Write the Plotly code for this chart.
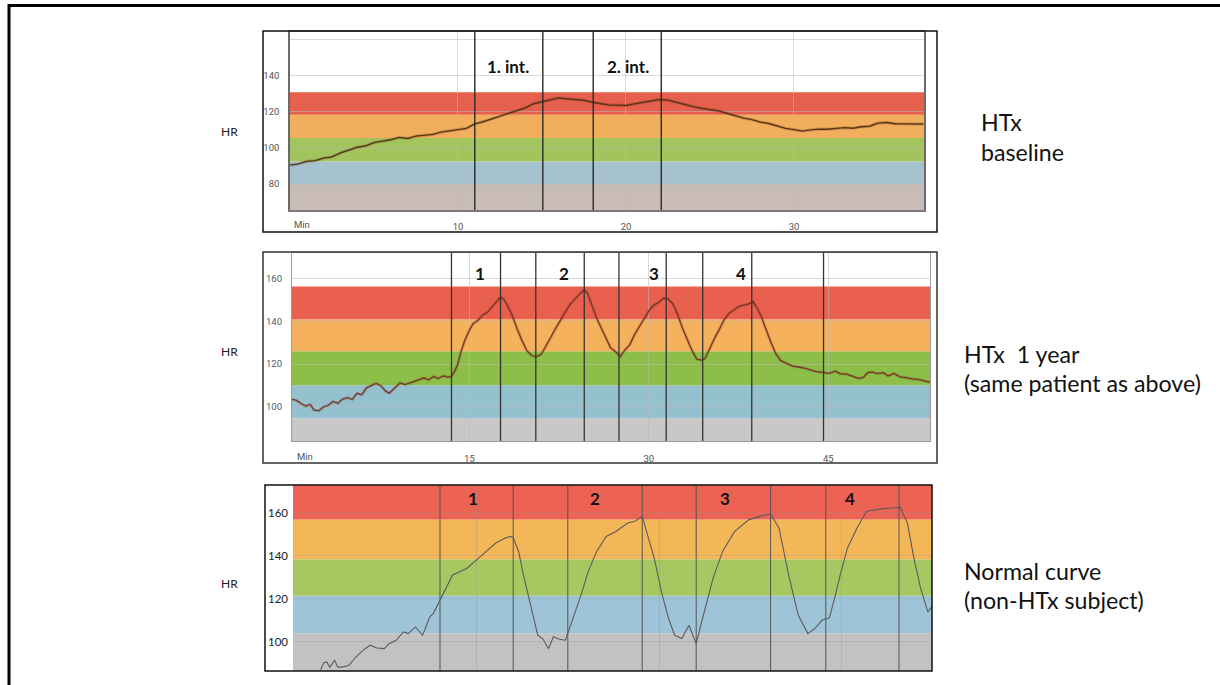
import plotly.graph_objects as go

W, H = 1220, 685


def fx(x):
    return x / W


def fy(y):
    return 1 - y / H


# ---------------- data ----------------
# HTx baseline
T1 = [0, 0.5, 1, 1.5, 2, 2.5, 3, 3.5, 4, 4.5, 5, 5.5, 6, 6.5, 7, 7.5, 8, 8.5, 9, 9.5,
      10, 10.5, 11, 11.5, 12, 12.5, 13, 13.5, 14, 14.5, 15, 15.5, 16, 16.5, 17, 17.5,
      18, 18.5, 19, 19.5, 20, 20.5, 21, 21.5, 22, 22.5, 23, 23.5, 24, 24.5, 25, 25.5,
      26, 26.5, 27, 27.5, 28, 28.5, 29, 29.5, 30, 30.5, 31, 31.5, 32, 32.5, 33, 33.5,
      34, 34.5, 35, 35.5, 36, 36.5, 37, 37.7]
HR1 = [90.5, 91.2, 92.6, 93.0, 94.4, 95.1, 97.3, 99.0, 100.4, 101.2, 103.0, 103.8,
       104.6, 105.9, 105.3, 106.6, 106.9, 107.6, 108.8, 109.3, 110.2, 110.9, 113.4,
       114.6, 116.2, 117.5, 119.2, 120.7, 122.3, 124.6, 125.6, 126.9, 127.8, 127.3,
       126.8, 126.5, 125.4, 124.5, 123.9, 123.8, 123.6, 124.5, 125.2, 126.0, 126.9,
       126.6, 125.3, 124.2, 123.0, 122.1, 121.5, 120.6, 119.3, 117.8, 116.6, 115.8,
       114.4, 113.6, 112.1, 110.9, 110.2, 109.4, 110.1, 110.5, 110.4, 110.9, 111.3,
       111.0, 111.8, 112.1, 113.8, 114.2, 113.5, 113.4, 113.3, 113.3]
MARKS1 = [11.0, 15.05, 18.05, 22.1]
LABELS1 = ["1. int.", "2. int."]
LABEL_T1 = [13.0, 20.1]
ZONES1 = [80, 92.5, 105.5, 118.5, 131]

# HTx 1 year
T2 = [0, 0.5, 1, 1.3, 1.7, 2, 2.4, 2.8, 3.2, 3.6, 4, 4.4, 4.8, 5.2, 5.6, 6, 6.4, 6.8,
      7.2, 7.6, 8, 8.3, 8.7, 9.2, 9.6, 10, 10.4, 10.8, 11.2, 11.6, 12, 12.4, 12.8, 13.2,
      13.5, 13.8, 14, 14.3, 14.6, 15, 15.3, 15.7, 16.1, 16.5, 16.9, 17.3, 17.6, 17.9,
      18.2, 18.6, 19, 19.4, 19.8, 20.2, 20.6, 21, 21.4, 21.8, 22.2, 22.6, 23, 23.4,
      23.8, 24.2, 24.6, 24.9, 25.2, 25.6, 26, 26.4, 26.8, 27.2, 27.6, 28, 28.4, 28.8,
      29.2, 29.6, 30, 30.4, 30.8, 31.2, 31.6, 32, 32.4, 32.8, 33.2, 33.6, 34, 34.4,
      34.7, 35.1, 35.5, 35.9, 36.3, 36.7, 37.1, 37.5, 37.9, 38.3, 38.7, 39, 39.4,
      39.8, 40.2, 40.6, 41, 41.5, 42, 42.5, 43, 43.5, 44, 44.6, 45.1, 45.6, 46, 46.5,
      47, 47.5, 47.9, 48.3, 48.7, 49.1, 49.6, 50, 50.5, 51, 51.5, 52, 52.5, 53, 53.5]
HR2 = [103.5, 103.0, 101.2, 100.2, 101.0, 98.4, 98.0, 99.8, 100.6, 102.4, 101.5,
       103.5, 104.2, 103.3, 106.2, 105.5, 108.8, 109.9, 110.9, 109.8, 107.2, 106.3,
       108.4, 111.1, 110.3, 110.9, 111.8, 112.7, 113.4, 112.6, 114.1, 113.2, 114.4,
       113.8, 114.2, 117.0, 119.5, 125.8, 130.9, 135.9, 138.9, 140.5, 142.9, 144.3,
       146.9, 149.6, 151.5, 150.2, 147.3, 142.5, 136.2, 131.0, 126.3, 124.0, 123.4,
       124.6, 128.3, 132.6, 136.8, 140.4, 144.6, 147.9, 150.5, 152.8, 155.0, 153.0,
       148.6, 142.0, 137.2, 132.0, 127.6, 125.9, 123.4, 126.6, 129.0, 133.8, 137.4,
       141.5, 145.0, 147.6, 148.9, 150.9, 150.6, 148.4, 143.4, 137.0, 131.3, 126.4,
       122.3, 121.8, 122.6, 127.8, 132.2, 136.4, 140.9, 143.8, 145.4, 147.0, 147.7,
       148.1, 149.3, 146.9, 142.2, 136.0, 130.2, 125.0, 121.7, 120.3, 119.0, 118.6,
       118.1, 117.2, 116.4, 116.0, 115.6, 116.6, 115.4, 115.3, 114.4, 113.3, 113.6,
       115.9, 116.2, 115.5, 115.9, 114.4, 115.6, 113.9, 113.6, 113.0, 112.8, 112.2,
       111.5]
MARKS2 = [13.5, 17.6, 20.55, 24.6, 27.5, 31.45, 34.5, 38.6, 44.6]
LABELS2 = ["1", "2", "3", "4"]
LABEL_T2 = [15.9, 22.9, 30.4, 37.7]
ZONES2 = [94.5, 110, 126, 141, 156.5]

# Normal curve (non-HTx subject)
T3 = [2.3, 2.56, 2.8, 3.07, 3.47, 3.74, 4.06, 4.65, 5.24, 5.83, 6.42, 7.0, 7.6, 8.0,
      8.6, 9.2, 9.6, 10.2, 10.8, 11.4, 11.7, 12.25, 12.7, 13.3, 13.9, 14.5, 15.3,
      16.1, 16.9, 17.7, 18.1, 18.35, 18.8, 19.2, 19.8, 20.4, 20.8, 21.3, 21.7, 22.2,
      22.7, 22.9, 23.4, 24.0, 24.6, 25.3, 26.1, 26.9, 27.9, 28.5, 29.1, 29.5, 30.1,
      30.7, 31.3, 31.8, 32.4, 33.0, 33.6, 34.2, 35.0, 35.8, 36.8, 38.0, 38.9, 39.8,
      40.5, 41.3, 42.1, 42.9, 43.5, 44.1, 44.7, 45.2, 45.6, 46.2, 47.0, 47.8, 49.0,
      49.9, 50.6, 51.2, 51.8, 52.3, 52.9, 53.25]
HR3 = [87.1, 90.4, 90.7, 88.3, 91.5, 88.3, 88.3, 89.1, 93.0, 96.1, 98.5, 97.2, 96.9,
       99.2, 100.8, 104.7, 103.9, 107.0, 103.1, 111.7, 113.3, 119.5, 124.2, 131.2,
       132.7, 134.3, 138.2, 142.1, 146.0, 148.3, 149.1, 148.6, 142.1, 131.2, 117.2,
       103.1, 101.6, 96.9, 102.4, 101.3, 100.8, 103.9, 112.5, 121.8, 132.7, 142.1,
       149.1, 151.4, 155.3, 156.1, 158.4, 150.7, 139.0, 123.4, 110.9, 103.1, 101.6,
       107.8, 99.2, 112.5, 129.6, 142.1, 151.4, 156.9, 158.4, 159.5, 153.0, 131.2,
       112.5, 103.9, 106.3, 110.2, 111.2, 121.8, 131.2, 143.6, 153.0, 160.8, 161.9,
       162.3, 162.6, 155.3, 137.4, 125.0, 114.0, 116.4]
MARKS3 = [12.25, 18.35, 22.9, 29.1, 33.6, 39.8, 44.4, 50.5]
LABELS3 = ["1", "2", "3", "4"]
LABEL_T3 = [15.0, 25.2, 36.0, 46.4]
ZONES3 = [104, 121.5, 138.5, 157]

CAPTIONS = [["HTx", "baseline"],
            ["HTx\u00a0 1 year", "(same patient as above)"],
            ["Normal curve", "(non-HTx subject)"]]

# ---------------- figure ----------------
fig = go.Figure()
shapes = []
annotations = []


def zone_shapes(xref, yref, edges, ymin, ymax, colors):
    # colored intensity zones, lowest first
    bounds = [ymin] + list(edges) + [ymax]
    out = []
    for i, c in enumerate(colors):
        if i + 1 >= len(bounds):
            break
        out.append(dict(type="rect", xref=xref + " domain", yref=yref,
                        x0=0, x1=1, y0=bounds[i], y1=bounds[i + 1],
                        fillcolor=c, line=dict(width=0), layer="below"))
    return out


# panel 1 ------------------------------------------------------
R1 = (65.6, 164.4)
shapes += zone_shapes("x", "y", ZONES1, R1[0], R1[1],
                      ["#c9bcb7", "#a6c2ce", "#a3c35c", "#f1ae5d", "#e6604d", "rgba(0,0,0,0)"])
fig.add_trace(go.Scatter(x=T1, y=HR1, mode="lines", xaxis="x", yaxis="y",
                         line=dict(color="rgba(70,40,20,0.2)", width=3.2),
                         hoverinfo="skip", showlegend=False))
fig.add_trace(go.Scatter(x=T1, y=HR1, mode="lines", xaxis="x", yaxis="y",
                         line=dict(color="#5b3416", width=1.4), showlegend=False))

# panel 2 ------------------------------------------------------
R2 = (83.8, 172.2)
shapes += zone_shapes("x2", "y2", ZONES2, R2[0], R2[1],
                      ["#c8c8c8", "#95c1cf", "#8dbf48", "#f6b15c", "#ea604f", "rgba(0,0,0,0)"])
fig.add_trace(go.Scatter(x=T2, y=HR2, mode="lines", xaxis="x2", yaxis="y2",
                         line=dict(color="rgba(90,40,30,0.18)", width=3.2),
                         hoverinfo="skip", showlegend=False))
fig.add_trace(go.Scatter(x=T2, y=HR2, mode="lines", xaxis="x2", yaxis="y2",
                         line=dict(color="#7d3526", width=1.3), showlegend=False))

# panel 3 ------------------------------------------------------
R3 = (86.5, 173.0)
shapes += zone_shapes("x3", "y3", ZONES3, R3[0], R3[1],
                      ["#c2c2c2", "#9ec4d8", "#a7c760", "#f4b758", "#ec6354"])
fig.add_trace(go.Scatter(x=T3, y=HR3, mode="lines", xaxis="x3", yaxis="y3",
                         line=dict(color="#5e5a5a", width=1.1), showlegend=False))

# interval markers
for xr, yr, marks, col, wd in [("x", "y", MARKS1, "#2a2a2a", 1.4),
                               ("x2", "y2", MARKS2, "#333333", 1.3),
                               ("x3", "y3", MARKS3, "#555555", 1.0)]:
    for m in marks:
        shapes.append(dict(type="line", xref=xr, yref=yr + " domain", x0=m, x1=m,
                           y0=0, y1=1, line=dict(color=col, width=wd), layer="above"))

# interval labels
for xr, yr, labs, ts, ypos in [("x", "y", LABELS1, LABEL_T1, 66),
                               ("x2", "y2", LABELS2, LABEL_T2, 273),
                               ("x3", "y3", LABELS3, LABEL_T3, 498)]:
    for lab, t in zip(labs, ts):
        annotations.append(dict(text="<b>" + lab + "</b>", x=t, xref=xr, y=fy(ypos),
                                yref="paper", showarrow=False, xanchor="center",
                                yanchor="middle",
                                font=dict(family="Lato", size=17, color="#111111")))

# panel frames
for x0, y0, x1, y1, col in [(263, 31, 937, 232, "#111111"),
                            (263, 252, 937, 463, "#333333"),
                            (265, 485, 932, 671, "#111111")]:
    shapes.append(dict(type="rect", xref="paper", yref="paper", x0=fx(x0), x1=fx(x1),
                       y0=fy(y1), y1=fy(y0), line=dict(color=col, width=1.5),
                       fillcolor="rgba(0,0,0,0)", layer="above"))

# outer slide border
shapes.append(dict(type="rect", xref="paper", yref="paper", x0=fx(9), x1=fx(1240),
                   y0=fy(710), y1=fy(5.5), line=dict(color="#000000", width=3),
                   fillcolor="rgba(0,0,0,0)", layer="above"))

# HR labels
for ypos, xpos in [(131, 229), (351, 230), (583, 229)]:
    annotations.append(dict(text="HR", x=fx(xpos), y=fy(ypos), xref="paper", yref="paper",
                            showarrow=False, xanchor="center", yanchor="middle",
                            font=dict(family="Lato", size=12, color="#222222")))

# "Min" axis captions
for xpos, ypos in [(292, 225), (295, 456)]:
    annotations.append(dict(text="Min", x=fx(xpos), y=fy(ypos), xref="paper", yref="paper",
                            showarrow=False, xanchor="left", yanchor="middle",
                            font=dict(family="Roboto", size=9.5, color="#555555")))

# captions on the right
for (l1, l2), xl, y1, y2 in zip(CAPTIONS, [979, 962, 962], [122, 354, 571],
                                [152, 383, 600]):
    for txt, yy in [(l1, y1), (l2, y2)]:
        annotations.append(dict(text=txt, x=fx(xl), y=fy(yy), xref="paper", yref="paper",
                                showarrow=False, xanchor="left", yanchor="middle",
                                font=dict(family="Lato", size=23.2, color="#111111")))

grid = "rgba(185,185,185,0.55)"
tick_font = dict(family="Roboto", size=9.5, color="#555555")

fig.update_layout(
    width=W, height=H, margin=dict(l=0, r=0, t=0, b=0),
    paper_bgcolor="white", plot_bgcolor="white", showlegend=False,
    shapes=shapes, annotations=annotations,
    xaxis=dict(domain=[fx(290), fx(924)], range=[0, 37.74], tickvals=[10, 20, 30],
               anchor="y", showgrid=True, gridcolor=grid, zeroline=False, ticks="",
               tickfont=tick_font, ticklabelstandoff=7,
               showline=True, linecolor="#7a7a7a", linewidth=1.5, mirror=True),
    yaxis=dict(domain=[fy(210), fy(32)], range=list(R1), anchor="x",
               tickvals=[80, 100, 120, 140, 160], ticktext=["80", "100", "120", "140", ""],
               showgrid=True, gridcolor=grid, zeroline=False, ticks="",
               tickfont=tick_font, ticklabelstandoff=7,
               showline=True, linecolor="#6a6a6a", linewidth=1.5, mirror=True),
    xaxis2=dict(domain=[fx(292), fx(930)], range=[0.17, 53.5], tickvals=[15, 30, 45],
                anchor="y2", showgrid=True, gridcolor=grid, zeroline=False, ticks="",
                tickfont=tick_font, ticklabelstandoff=8,
                showline=True, linecolor="#9a9a9a", linewidth=1.2, mirror=True),
    yaxis2=dict(domain=[fy(441), fy(253)], range=list(R2), tickvals=[100, 120, 140, 160],
                anchor="x2", showgrid=True, gridcolor=grid, zeroline=False, ticks="",
                tickfont=dict(family="Roboto", size=9.5, color="#46626e"),
                ticklabelstandoff=7,
                showline=True, linecolor="#9a9a9a", linewidth=1.2, mirror=True),
    xaxis3=dict(domain=[fx(293), fx(932)], range=[0, 53.25], tickvals=[15.3, 30.5, 45.7],
                anchor="y3", showticklabels=False, showgrid=True,
                gridcolor="rgba(150,150,150,0.35)", zeroline=False, ticks=""),
    yaxis3=dict(domain=[fy(671), fy(485)], range=list(R3), tickvals=[100, 120, 140, 160],
                anchor="x3", showgrid=True, gridcolor="rgba(150,150,150,0.3)",
                zeroline=False, ticks="",
                tickfont=dict(family="Lato", size=11.5, color="#222222"),
                ticklabelstandoff=4),
)

fig.write_html("out.html")
